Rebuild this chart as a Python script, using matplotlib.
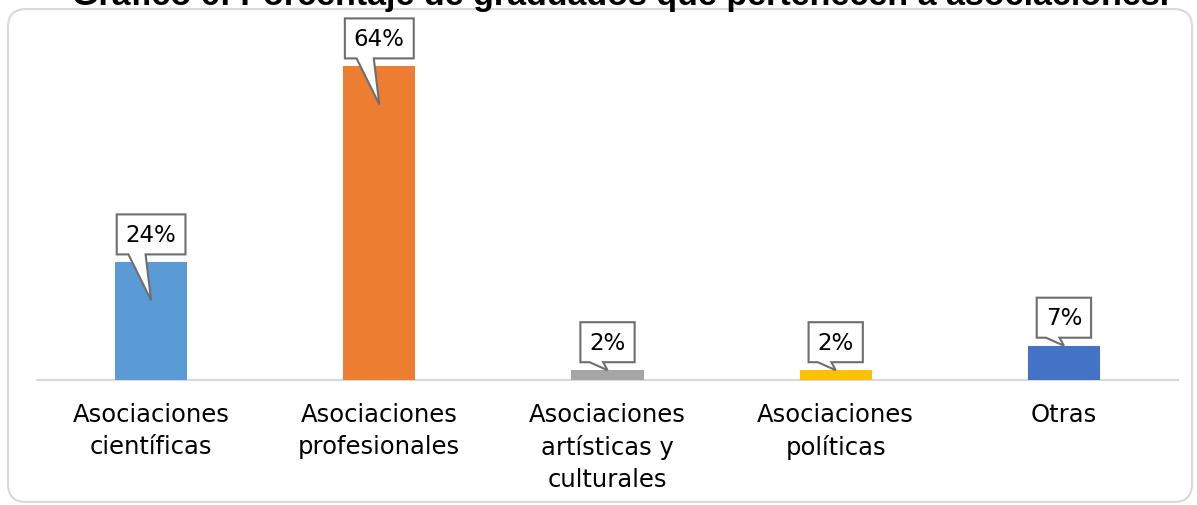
import matplotlib
matplotlib.use("Agg")
import matplotlib.pyplot as plt
from matplotlib.patches import FancyBboxPatch, Polygon
from matplotlib.transforms import IdentityTransform

# Data
categories = [
    "Asociaciones\ncientíficas",
    "Asociaciones\nprofesionales",
    "Asociaciones\nartísticas y\nculturales",
    "Asociaciones\npolíticas",
    "Otras",
]
values = [24, 64, 2, 2, 7]
labels = ["24%", "64%", "2%", "2%", "7%"]
colors = ["#5B9BD5", "#ED7D31", "#A5A5A5", "#FFC000", "#4472C4"]
title = "Gráfico 6: Porcentaje de graduados que pertenecen a asociaciones."

plt.rcParams["font.family"] = ["DejaVu Sans"]

fig = plt.figure(figsize=(11.97, 5.06), dpi=100, facecolor="white")
W, H = 1197, 506

# Outer rounded frame (pixel coords)
frame = FancyBboxPatch((8, 3), 1184, 493, boxstyle="round,pad=0,rounding_size=18",
                       transform=IdentityTransform(), facecolor="none",
                       edgecolor="#D9D9D9", linewidth=1.5, zorder=0)
fig.patches.append(frame)

# Title, mostly cut off at top like in the source
fig.text(621 / W, 1 - 5 / H, title, ha="center", va="baseline",
         fontsize=24.5, fontweight="bold", family=["Liberation Sans", "DejaVu Sans"])

ax = fig.add_axes([37 / W, 125 / H, 1141 / W, 343 / H])
ax.set_facecolor("none")
x = list(range(len(categories)))
ax.bar(x, values, width=0.316, color=colors, zorder=2)
ax.set_xlim(-0.5, 4.5)
ax.set_ylim(0, 70)
ax.set_yticks([])
ax.set_xticks(x)
ax.set_xticklabels(categories, fontsize=17.5, linespacing=1.4, color="#000000")
ax.tick_params(axis="x", length=0, pad=16)
for s in ["top", "left", "right"]:
    ax.spines[s].set_visible(False)
ax.spines["bottom"].set_color("#D9D9D9")
ax.spines["bottom"].set_linewidth(1.5)
ax.spines["bottom"].set_zorder(1)

# Callout data labels
fig.canvas.draw()
renderer = fig.canvas.get_renderer()
box_h = 40
gap = 8
for xi, v, lab in zip(x, values, labels):
    cx, top = ax.transData.transform((xi, v))
    _, base = ax.transData.transform((xi, 0))
    t = fig.text(0, 0, lab, ha="center", va="center", fontsize=16.5, zorder=6,
                 transform=IdentityTransform())
    ext = t.get_window_extent(renderer)
    bw = ext.width + 18
    y0 = top + gap
    y1 = y0 + box_h
    x0 = cx - bw / 2
    x1 = cx + bw / 2
    # tip: inside the bar for tall bars, at the top for short ones
    tip_y = top - 38 if (top - base) > 60 else top
    pl = cx - 0.33 * bw
    pr = cx - 0.08 * bw
    pts = [(x0, y1), (x1, y1), (x1, y0), (pr, y0), (cx, tip_y), (pl, y0), (x0, y0)]
    poly = Polygon(pts, closed=True, transform=IdentityTransform(),
                   facecolor="white", edgecolor="#6E6E6E", linewidth=1.5, zorder=5)
    fig.patches.append(poly)
    t.set_position((cx, (y0 + y1) / 2))

fig.savefig("out.png", dpi=100)
